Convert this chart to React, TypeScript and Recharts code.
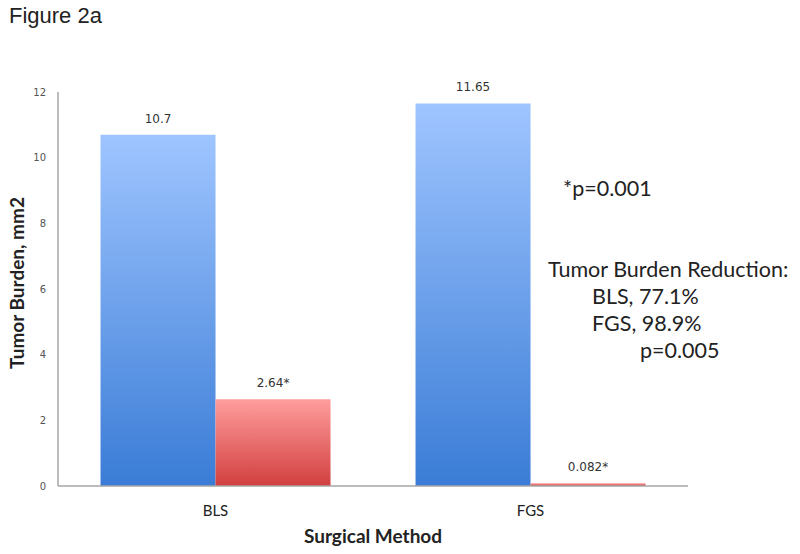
import React from 'react';
import { BarChart, Bar, XAxis, YAxis, LabelList } from 'recharts';

const categories = ['BLS', 'FGS'];
const beforeValues = [10.7, 11.65];
const afterValues = [2.64, 0.082];
const beforeLabels = ['10.7', '11.65'];
const afterLabels = ['2.64*', '0.082*'];
const yTicks = [0, 2, 4, 6, 8, 10, 12];

const data = categories.map((c, i) => ({
  name: c,
  before: beforeValues[i],
  after: afterValues[i],
  beforeLabel: beforeLabels[i],
  afterLabel: afterLabels[i],
}));

const labelFont = 'Lato, "Open Sans", sans-serif';
const smallFont = 'Verdana, "DejaVu Sans", sans-serif';

export default function App() {
  return (
    <div style={{ position: 'absolute', left: 0, top: 0, width: 800, height: 554, background: '#fff' }}>
      <svg width={0} height={0} style={{ position: 'absolute' }}>
        <defs>
          <linearGradient id="blueGrad" x1="0" y1="0" x2="0" y2="1">
            <stop offset="0%" stopColor="#9fc5ff" />
            <stop offset="100%" stopColor="#3a7cd6" />
          </linearGradient>
          <linearGradient id="redGrad" x1="0" y1="0" x2="0" y2="1">
            <stop offset="0%" stopColor="#ff9d9d" />
            <stop offset="100%" stopColor="#d23f3f" />
          </linearGradient>
        </defs>
      </svg>
      <BarChart
        width={800}
        height={554}
        data={data}
        margin={{ top: 92, right: 112, bottom: 28, left: 0 }}
        barCategoryGap="13.5%"
        barGap={0}
      >
        <XAxis
          dataKey="name"
          height={40}
          axisLine={{ stroke: '#a6a6a6', strokeWidth: 1.5 }}
          tickLine={false}
          tickSize={0}
          tickMargin={19}
          tick={{ fontFamily: labelFont, fontSize: 15, fill: '#222' }}
          label={() => (
            <text x={373} y={543} textAnchor="middle" fontFamily={labelFont} fontWeight="bold" fontSize={19} fill="#222">
              Surgical Method
            </text>
          )}
        />
        <YAxis
          width={58}
          domain={[0, 12]}
          ticks={yTicks}
          interval={0}
          axisLine={{ stroke: '#a6a6a6', strokeWidth: 1.5 }}
          tickLine={false}
          tickSize={0}
          tickMargin={12}
          tick={{ fontFamily: smallFont, fontSize: 10, fill: '#555' }}
          label={() => (
            <text
              x={24}
              y={283}
              transform="rotate(-90 24 283)"
              textAnchor="middle"
              fontFamily={labelFont}
              fontWeight="bold"
              fontSize={19}
              fill="#222"
            >
              Tumor Burden, mm2
            </text>
          )}
        />
        <Bar dataKey="before" fill="url(#blueGrad)" isAnimationActive={false}>
          <LabelList dataKey="beforeLabel" position="top" offset={12} style={{ fontFamily: smallFont, fontSize: 12, fill: '#333' }} />
        </Bar>
        <Bar dataKey="after" fill="url(#redGrad)" isAnimationActive={false}>
          <LabelList dataKey="afterLabel" position="top" offset={12} style={{ fontFamily: smallFont, fontSize: 12, fill: '#333' }} />
        </Bar>
      </BarChart>
      <div style={{ position: 'absolute', left: 9, top: 3, fontFamily: '"Liberation Sans", Arial, sans-serif', fontSize: 22, color: '#222' }}>
        Figure 2a
      </div>
      <div style={{ position: 'absolute', left: 563, top: 175, fontFamily: labelFont, fontSize: 21.5, color: '#222', whiteSpace: 'nowrap' }}>
        *p=0.001
      </div>
      <div style={{ position: 'absolute', left: 548, top: 256, fontFamily: labelFont, fontSize: 21.5, color: '#222', lineHeight: '27px', whiteSpace: 'nowrap' }}>
        <div>Tumor Burden Reduction:</div>
        <div style={{ paddingLeft: 44 }}>BLS, 77.1%</div>
        <div style={{ paddingLeft: 44 }}>FGS, 98.9%</div>
        <div style={{ paddingLeft: 92 }}>p=0.005</div>
      </div>
    </div>
  );
}
